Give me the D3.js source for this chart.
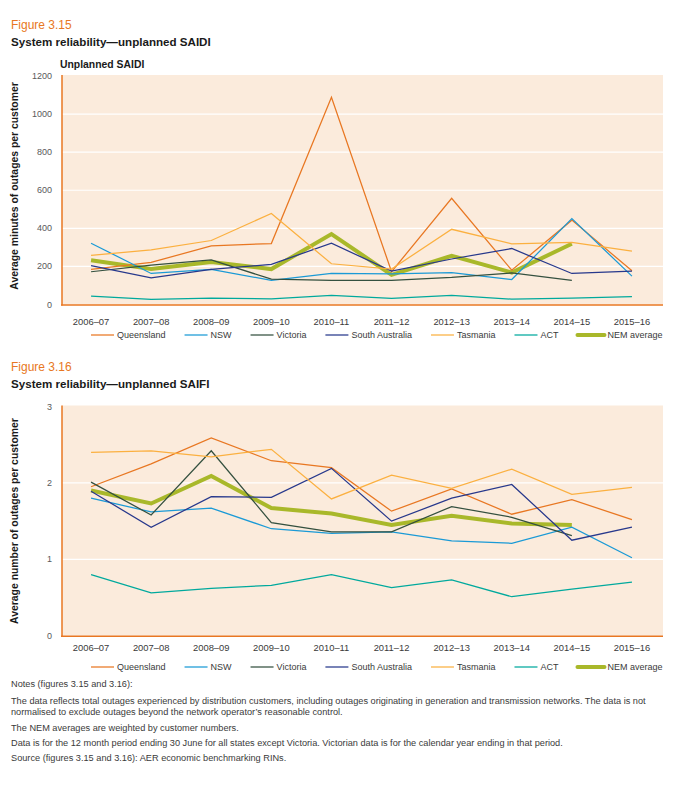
<!DOCTYPE html>
<html>
<head>
<meta charset="utf-8">
<title>System reliability - unplanned SAIDI and SAIFI</title>
<style>
  body { margin: 0; background: #fff; font-family: "Liberation Sans", Arial, sans-serif; }
  svg text { font-family: "Liberation Sans", Arial, sans-serif; }
  .fig-num   { fill: #e87722; font-size: 12px; }
  .fig-title { fill: #1a1a1a; font-size: 11.6px; font-weight: bold; }
  .chart-title { fill: #1a1a1a; font-size: 10.4px; font-weight: bold; }
  .ytitle    { fill: #1a1a1a; font-size: 10.4px; font-weight: bold; }
  .ytick     { fill: #58595b; font-size: 9px; }
  .xtick     { fill: #3a3a3a; font-size: 9.4px; }
  .legend text { fill: #3a3a3a; font-size: 9px; }
  .notes text  { fill: #3a3a3a; font-size: 9.2px; }
</style>
</head>
<body>
<script src="https://d3js.org/d3.v7.min.js"></script>
<script>

// years on the x axis
var years = ['2006–07', '2007–08', '2008–09', '2009–10', '2010–11',
             '2011–12', '2012–13', '2013–14', '2014–15', '2015–16'];

var series = ['Queensland', 'NSW', 'Victoria', 'South Australia', 'Tasmania', 'ACT', 'NEM average'];
var seriesColors = ['#e87722', '#1b9ad6', '#34503f', '#27388c', '#fbb040', '#00a99d', '#a9b82a'];

// Figure 3.15 - unplanned SAIDI (minutes)
var saidiQueensland = [184, 221, 308, 320, 1088, 172, 558, 180, 443, 177];
var saidiNSW        = [322, 163, 184, 127, 163, 161, 168, 131, 451, 149];
var saidiVictoria   = [172, 207, 234, 133, 127, 127, 142, 166, 127, null];
var saidiSA         = [204, 140, 184, 211, 322, 175, 239, 294, 163, 175];
var saidiTasmania   = [258, 287, 336, 478, 214, 186, 395, 319, 326, 280];
var saidiACT        = [44, 27, 33, 30, 48, 32, 48, 28, 33, 41];
var saidiNEM        = [232, 186, 223, 186, 370, 156, 256, 168, 319, null];
var saidiTicks      = [0, 200, 400, 600, 800, 1000, 1200];

// Figure 3.16 - unplanned SAIFI (number)
var saifiQueensland = [1.95, 2.25, 2.59, 2.29, 2.20, 1.63, 1.92, 1.59, 1.78, 1.52];
var saifiNSW        = [1.80, 1.62, 1.67, 1.40, 1.34, 1.36, 1.24, 1.21, 1.42, 1.02];
var saifiVictoria   = [2.01, 1.58, 2.42, 1.48, 1.36, 1.36, 1.69, 1.55, 1.31, null];
var saifiSA         = [1.89, 1.42, 1.82, 1.81, 2.19, 1.50, 1.80, 1.98, 1.25, 1.42];
var saifiTasmania   = [2.40, 2.42, 2.34, 2.44, 1.79, 2.10, 1.93, 2.18, 1.85, 1.94];
var saifiACT        = [0.80, 0.56, 0.62, 0.66, 0.80, 0.63, 0.73, 0.51, 0.61, 0.70];
var saifiNEM        = [1.90, 1.73, 2.09, 1.67, 1.60, 1.45, 1.57, 1.47, 1.45, null];
var saifiTicks      = [0, 1, 2, 3];

var notes = [
  'Notes (figures 3.15 and 3.16):',
  'The data reflects total outages experienced by distribution customers, including outages originating in generation and transmission networks. The data is not',
  'normalised to exclude outages beyond the network operator\u2019s reasonable control.',
  'The NEM averages are weighted by customer numbers.',
  'Data is for the 12 month period ending 30 June for all states except Victoria. Victorian data is for the calendar year ending in that period.',
  'Source (figures 3.15 and 3.16): AER economic benchmarking RINs.'
];

var svg = d3.select('body').append('svg')
    .attr('width', 696)
    .attr('height', 799);

var xScale = d3.scalePoint()
    .domain(years)
    .range([61, 662])
    .padding(0.5);

function drawChart(o) {
  var yScale = d3.scaleLinear()
      .domain([0, o.ticks[o.ticks.length - 1]])
      .range([o.bottom, o.top]);

  var g = svg.append('g');

  g.append('text').attr('class', 'fig-num').attr('x', 11).attr('y', o.titleY).text(o.figure);
  g.append('text').attr('class', 'fig-title').attr('x', 11).attr('y', o.titleY + 17).text(o.title);
  if (o.chartTitle) {
    g.append('text').attr('class', 'chart-title').attr('x', 60).attr('y', o.top - 8).text(o.chartTitle);
  }

  // background panel
  g.append('rect')
    .attr('x', 62).attr('y', o.top - 1)
    .attr('width', 601).attr('height', o.bottom - o.top + 1)
    .attr('fill', '#fbebdc');

  // white gridlines
  g.selectAll('.grid')
    .data(o.ticks.filter(function(t){ return t > 0 && t < o.ticks[o.ticks.length - 1]; }))
    .enter().append('line')
    .attr('x1', 62).attr('x2', 663)
    .attr('y1', function(d){ return yScale(d); })
    .attr('y2', function(d){ return yScale(d); })
    .attr('stroke', '#fff').attr('stroke-width', 1.2);

  // y tick labels
  g.selectAll('.ytick')
    .data(o.ticks)
    .enter().append('text')
    .attr('class', 'ytick')
    .attr('x', 52)
    .attr('y', function(d){ return yScale(d) + 3; })
    .attr('text-anchor', 'end')
    .text(function(d){ return d; });

  // x tick labels
  g.selectAll('.xtick')
    .data(years)
    .enter().append('text')
    .attr('class', 'xtick')
    .attr('x', function(d){ return xScale(d); })
    .attr('y', o.bottom + o.xTickGap)
    .attr('text-anchor', 'middle')
    .text(function(d){ return d; });

  // y axis title
  g.append('text')
    .attr('class', 'ytitle')
    .attr('transform', 'translate(18,' + o.yTitleMid + ') rotate(-90)')
    .attr('text-anchor', 'middle')
    .text(o.yTitle);

  var line = d3.line()
    .defined(function(d){ return d != null; })
    .x(function(d, i){ return xScale(years[i]); })
    .y(function(d){ return yScale(d); });

  // NEM average first, thick, then the states on top
  var order = [6, 0, 1, 2, 3, 4, 5];
  order.forEach(function(k){
    g.append('path')
      .attr('d', line(o.values[k]))
      .attr('fill', 'none')
      .attr('stroke', seriesColors[k])
      .attr('stroke-width', k == 6 ? 4 : 1.25)
      .attr('stroke-linejoin', 'miter');
  });

  // orange axes
  g.append('line')
    .attr('x1', 62).attr('x2', 62)
    .attr('y1', o.top - 1).attr('y2', o.bottom + 1)
    .attr('stroke', '#e87722').attr('stroke-width', 1.5);
  g.append('line')
    .attr('x1', 61).attr('x2', 663)
    .attr('y1', o.bottom + 0.5).attr('y2', o.bottom + 0.5)
    .attr('stroke', '#e87722').attr('stroke-width', 1.5);

  // legend
  var lg = g.append('g').attr('class', 'legend');
  var lx = 91;
  series.forEach(function(s, k){
    var w = k == 6 ? 27 : 23;
    lg.append('line')
      .attr('x1', lx).attr('x2', lx + w)
      .attr('y1', o.legendY).attr('y2', o.legendY)
      .attr('stroke', seriesColors[k])
      .attr('stroke-width', k == 6 ? 4 : 1.25)
      .attr('stroke-linecap', k == 6 ? 'round' : 'butt');
    var t = lg.append('text')
      .attr('x', lx + w + 3)
      .attr('y', o.legendY + 3)
      .text(s);
    lx += w + 3 + t.node().getComputedTextLength() + 19;
  });
}

drawChart({
  figure: 'Figure 3.15',
  title: 'System reliability\u2014unplanned SAIDI',
  chartTitle: 'Unplanned SAIDI',
  titleY: 29,
  top: 76,
  bottom: 304.5,
  ticks: saidiTicks,
  yTitle: 'Average minutes of outages per customer',
  yTitleMid: 186,
  xTickGap: 20,
  legendY: 335,
  values: [saidiQueensland, saidiNSW, saidiVictoria, saidiSA, saidiTasmania, saidiACT, saidiNEM]
});

drawChart({
  figure: 'Figure 3.16',
  title: 'System reliability\u2014unplanned SAIFI',
  chartTitle: null,
  titleY: 371,
  top: 406.5,
  bottom: 635.7,
  ticks: saifiTicks,
  yTitle: 'Average number of outages per customer',
  yTitleMid: 521,
  xTickGap: 15,
  legendY: 667,
  values: [saifiQueensland, saifiNSW, saifiVictoria, saifiSA, saifiTasmania, saifiACT, saifiNEM]
});

// notes under the second figure
var noteY = [687, 704, 715, 731, 746, 761];
svg.append('g').attr('class', 'notes')
  .selectAll('text')
  .data(notes)
  .enter().append('text')
  .attr('x', 11)
  .attr('y', function(d, i){ return noteY[i]; })
  .text(function(d){ return d; });

</script>
</body>
</html>
